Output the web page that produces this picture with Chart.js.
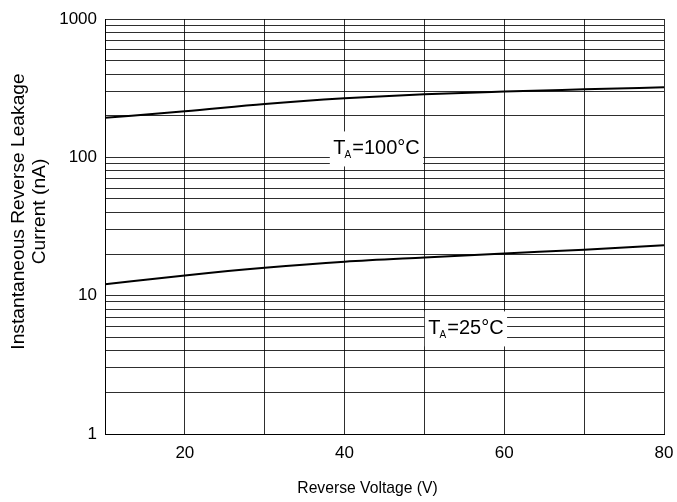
<!DOCTYPE html>
<html>
<head>
<meta charset="utf-8">
<script src="https://cdn.jsdelivr.net/npm/chart.js@4/dist/chart.umd.min.js"></script>
<style>
  html, body { margin: 0; padding: 0; background: #fff; }
  #wrap { width: 677px; height: 502px; }
</style>
</head>
<body>
<div id="wrap"><canvas id="c" width="677" height="502"></canvas></div>
<script>
// ---- data ----
const voltage = [10, 20, 30, 40, 50, 60, 70, 80];
const leak100C = [193, 215, 243, 267, 286, 299, 310, 321];
const leak25C = [12.1, 14.0, 15.9, 17.6, 18.9, 20.2, 21.5, 23.1];

const xTickLabels = [20, 40, 60, 80];
const yGridValues = [1, 2, 3, 4, 5, 6, 7, 8, 9,
                     10, 20, 30, 40, 50, 60, 70, 80, 90,
                     100, 200, 300, 400, 500, 600, 700, 800, 900, 1000];
const yTickLabels = [1, 10, 100, 1000];

const xTitle = 'Reverse Voltage (V)';
const yTitleLines = ['Instantaneous Reverse Leakage', 'Current (nA)'];
const curveLabels = [
  { main: 'T', sub: 'A', rest: '=100°C', x: 44.0, y: 115 },
  { main: 'T', sub: 'A', rest: '=25°C', x: 55.2, y: 5.75 }
];

const FONT = '"Liberation Sans", Arial, Helvetica, sans-serif';
const GRID = 'rgba(0,0,0,0.82)';

const toXY = (xs, ys) => xs.map((x, i) => ({ x: x, y: ys[i] }));

const textPlugin = {
  id: 'textPlugin',
  afterDraw(chart) {
    const ctx = chart.ctx;
    const xs = chart.scales.x, ys = chart.scales.y;
    ctx.save();
    ctx.fillStyle = '#000';
    // x title
    ctx.font = '15.7px ' + FONT;
    ctx.textAlign = 'center';
    ctx.textBaseline = 'middle';
    ctx.fillText(xTitle, 367.5, 489);
    // y title
    ctx.font = '19.2px ' + FONT;
    [[19, yTitleLines[0]], [40, yTitleLines[1]]].forEach(([px, txt]) => {
      ctx.save();
      ctx.translate(px, 211.5);
      ctx.rotate(-Math.PI / 2);
      ctx.fillText(txt, 0, 0);
      ctx.restore();
    });
    // curve labels with white boxes
    curveLabels.forEach(l => {
      const cx = xs.getPixelForValue(l.x);
      const cy = ys.getPixelForValue(l.y);
      ctx.font = '20px ' + FONT;
      const wT = ctx.measureText(l.main).width;
      const wR = ctx.measureText(l.rest).width;
      ctx.font = '10px ' + FONT;
      const wS = ctx.measureText(l.sub).width;
      const total = wT + wS + wR;
      const boxW = total + 7, boxH = 35;
      ctx.fillStyle = '#fff';
      ctx.fillRect(cx - boxW / 2, cy - boxH / 2, boxW, boxH);
      ctx.fillStyle = '#000';
      ctx.textAlign = 'left';
      ctx.textBaseline = 'alphabetic';
      let x0 = cx - total / 2;
      const base = cy + 5;
      ctx.font = '20px ' + FONT;
      ctx.fillText(l.main, x0, base);
      ctx.font = '10px ' + FONT;
      ctx.fillText(l.sub, x0 + wT - 1, base + 4);
      ctx.font = '20px ' + FONT;
      ctx.fillText(l.rest, x0 + wT + wS, base);
    });
    ctx.restore();
  }
};

new Chart(document.getElementById('c'), {
  type: 'line',
  data: {
    datasets: [
      { label: 'TA=100°C', data: toXY(voltage, leak100C), borderColor: '#000', borderWidth: 2,
        pointRadius: 0, tension: 0.4, cubicInterpolationMode: 'monotone', fill: false },
      { label: 'TA=25°C', data: toXY(voltage, leak25C), borderColor: '#000', borderWidth: 2,
        pointRadius: 0, tension: 0.4, cubicInterpolationMode: 'monotone', fill: false }
    ]
  },
  options: {
    responsive: false,
    animation: false,
    devicePixelRatio: 1,
    layout: { padding: { top: 19, right: 13, left: 0, bottom: 0 } },
    plugins: { legend: { display: false }, tooltip: { enabled: false }, title: { display: false } },
    scales: {
      x: {
        type: 'linear', min: 10, max: 80,
        grid: { color: GRID, lineWidth: 1, drawTicks: false },
        border: { display: true, color: '#000', width: 1 },
        ticks: {
          stepSize: 10, padding: 9, color: '#000', maxRotation: 0,
          font: { family: FONT, size: 17 },
          callback: v => xTickLabels.includes(v) ? String(v) : ''
        },
        afterFit: s => { s.height = 68; s.paddingLeft = 0; s.paddingRight = 0; }
      },
      y: {
        type: 'logarithmic', min: 1, max: 1000,
        grid: { color: GRID, lineWidth: 1, drawTicks: false },
        border: { display: true, color: '#000', width: 1 },
        afterBuildTicks: s => { s.ticks = yGridValues.map(v => ({ value: v })); },
        ticks: {
          padding: 8, color: '#000', autoSkip: false,
          font: { family: FONT, size: 17 },
          callback: v => yTickLabels.includes(v) ? String(v) : ''
        },
        afterFit: s => { s.width = 105; s.paddingTop = 0; s.paddingBottom = 0; }
      }
    }
  },
  plugins: [textPlugin]
});
</script>
</body>
</html>
